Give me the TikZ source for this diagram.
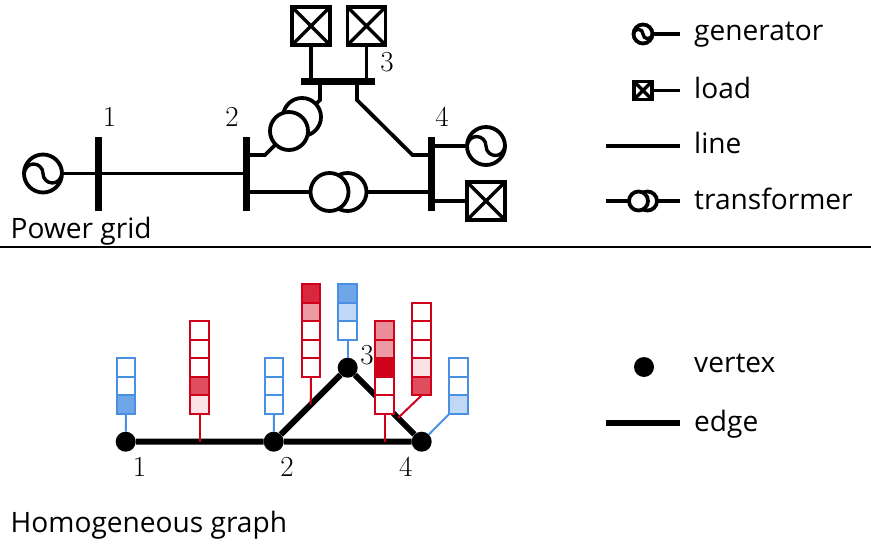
\documentclass[tikz,border=0pt]{standalone}
\usepackage{fontspec}
\setsansfont{Open Sans}
\usetikzlibrary{calc}
\definecolor{cellred}{HTML}{D0021B}
\definecolor{cellblue}{HTML}{4A90E2}
\tikzset{
  wire/.style={line width=3.8pt},
  bus/.style={fill=black,inner sep=0pt,minimum width=7pt,minimum height=74pt},
  gen/.style={draw,circle,line width=3.8pt,inner sep=0pt,minimum size=#1,fill=white,
    path picture={\draw[line width=3.4pt] (path picture bounding box.west)
      to[out=80,in=180] ($(path picture bounding box.west)!.5!(path picture bounding box.north)$)
      to[out=0,in=90] (path picture bounding box.center)
      to[out=-90,in=180] ($(path picture bounding box.east)!.5!(path picture bounding box.south)$)
      to[out=0,in=-100] (path picture bounding box.east);}},
  load/.style={draw,rectangle,line width=3.8pt,inner sep=0pt,minimum size=#1,fill=white,
    path picture={\draw[line width=3.4pt] (path picture bounding box.north west) -- (path picture bounding box.south east)
      (path picture bounding box.north east) -- (path picture bounding box.south west);}},
  coil/.style={draw,circle,line width=3.8pt,inner sep=0pt,minimum size=#1,fill=white},
  vertex/.style={fill=black,circle,inner sep=0pt,minimum size=20pt},
  edge/.style={line width=6pt},
  cell/.style={draw=#1,line width=2pt,inner sep=0pt,minimum size=18.5pt,outer sep=0pt},
  num/.style={font=\fontsize{29}{32}\selectfont,inner sep=0pt},
  txt/.style={font=\sffamily\fontsize{28.1}{32}\selectfont,anchor=base west,inner sep=0pt},
}
\newcommand{\cellstack}[5]{
  \foreach \c [count=\n from 0] in {#5} {
    \node[cell=#2,fill=\c] (#1-\n) at (#3,#4-18.5*\n) {};
  }
}
\begin{document}
\begin{tikzpicture}[x=1pt,y=-1pt]
\useasboundingbox (0,0) rectangle (871,546);
\node[gen=38pt] (gen1) at (43,173.5) {};
\node[gen=38pt] (gen4) at (486,146) {};
\node[load=38pt] (load4) at (486,201) {};
\node[load=38pt] (load31) at (311,26) {};
\node[load=38pt] (load32) at (366.5,26) {};
\coordinate (t1) at (320,100);
\coordinate (t2) at (265,155);
\coordinate (t3) at (357,100);
\coordinate (t4) at (412.5,155);
\node[bus] (bus1) at (98.5,173.5) {};
\node[bus] (bus2) at (246,173.5) {};
\node[bus] (bus4) at (431,173.5) {};
\node[bus,minimum width=74pt,minimum height=7pt] (bus3) at (338,81) {};
\draw[wire] (gen1) -- (bus2.center);
\draw[wire] (gen4) -- (bus4 |- gen4);
\draw[wire] (load4) -- (bus4 |- load4);
\draw[wire] (load31) -- (load31 |- bus3);
\draw[wire] (load32) -- (load32 |- bus3);
\draw[wire] (t1 |- bus3) -- (t1) -- (t2) -- (bus2 |- t2);
\draw[wire] (t3 |- bus3) -- (t3) -- (t4) -- (bus4 |- t4);
\draw[wire] (bus2 |- 0,192) -- (bus4 |- 0,192);
\node[coil=38pt] (coil1b) at (302,117) {};
\node[coil=38pt] (coil1a) at (289,131) {};
\node[coil=38pt] (coil2b) at (347.5,192) {};
\node[coil=38pt] (coil2a) at (329.5,192) {};
\node[num] (n1) at (109.5,117) {1};
\node[num] (n2) at (232,117) {2};
\node[num] (n3) at (387,62) {3};
\node[num] (n4) at (442,117) {4};
\node[txt] (grid) at (10.5,238) {Power grid};
\draw[line width=1.5pt] (0,247) -- (871,247);
\node[gen=19pt] (lgen) at (643,34) {};
\coordinate (lgen1) at (680,34);
\draw[wire] (lgen) -- (lgen1);
\node[load=18pt] (lload) at (643,90.5) {};
\coordinate (lload1) at (680,90.5);
\draw[wire] (lload) -- (lload1);
\coordinate (lline0) at (606,146);
\coordinate (lline1) at (680,146);
\draw[wire] (lline0) -- (lline1);
\coordinate (ltr0) at (606,201);
\coordinate (ltr1) at (680,201);
\draw[wire] (ltr0) -- (ltr1);
\node[coil=19pt] (lcoilb) at (647.5,201) {};
\node[coil=19pt] (lcoila) at (638.5,201) {};
\node[txt] (tgen) at (694,41) {generator};
\node[txt] (tload) at (694,98) {load};
\node[txt] (tline) at (694,153) {line};
\node[txt] (ttr) at (694,209) {transformer};
\node[vertex] (v1) at (125.7,441.7) {};
\node[vertex] (v2) at (273.7,441.7) {};
\node[vertex] (v3) at (347.7,367.7) {};
\node[vertex] (v4) at (421.7,441.7) {};
\coordinate (e12) at (199.7,441.7);
\coordinate (e23) at (310.7,404.7);
\coordinate (e24) at (384.7,441.7);
\coordinate (e34) at (398,418);
\draw[edge] (v1) -- (v2) -- (v3) -- (v4) -- (v2);
\cellstack{s1}{cellblue}{126}{404.5}{cellblue!80,white,white}
\cellstack{s12}{cellred}{199.7}{404.5}{cellred!12,cellred!70,white,white,white}
\cellstack{s2}{cellblue}{274}{404.5}{white,white,white}
\cellstack{s23}{cellred}{311}{367.5}{white,white,white,cellred!40,cellred!85}
\cellstack{s3}{cellblue}{347.7}{330.5}{white,cellblue!35,cellblue!80}
\cellstack{s24}{cellred}{384.7}{404.5}{white,white,cellred,cellred!40,cellred!45}
\cellstack{s34}{cellred}{421.7}{386}{cellred!70,cellred!12,white,white,white}
\cellstack{s4}{cellblue}{458.7}{404.5}{cellblue!35,white,white}
\draw[cellblue,line width=2pt] (s1-0) -- (v1);
\draw[cellred,line width=2pt] (s12-0) -- (e12);
\draw[cellblue,line width=2pt] (s2-0) -- (v2);
\draw[cellred,line width=2pt] (s23-0) -- (e23);
\draw[cellblue,line width=2pt] (s3-0) -- (v3);
\draw[cellred,line width=2pt] (s24-0) -- (e24);
\draw[cellred,line width=2pt] (s34-0.south) -- (e34);
\draw[cellblue,line width=2pt] (s4-0.south west) -- (v4);
\node[num] (m1) at (139.5,467) {1};
\node[num] (m2) at (287,467) {2};
\node[num] (m3) at (367,355) {3};
\node[num] (m4) at (405.7,467) {4};
\node[vertex] (lvert) at (644,367) {};
\coordinate (ledge0) at (606,423);
\coordinate (ledge1) at (680,423);
\draw[edge] (ledge0) -- (ledge1);
\node[txt] (tvert) at (694,372) {vertex};
\node[txt] (tedge) at (694,431) {edge};
\node[txt] (hom) at (10.5,532) {Homogeneous graph};
\end{tikzpicture}
\end{document}
